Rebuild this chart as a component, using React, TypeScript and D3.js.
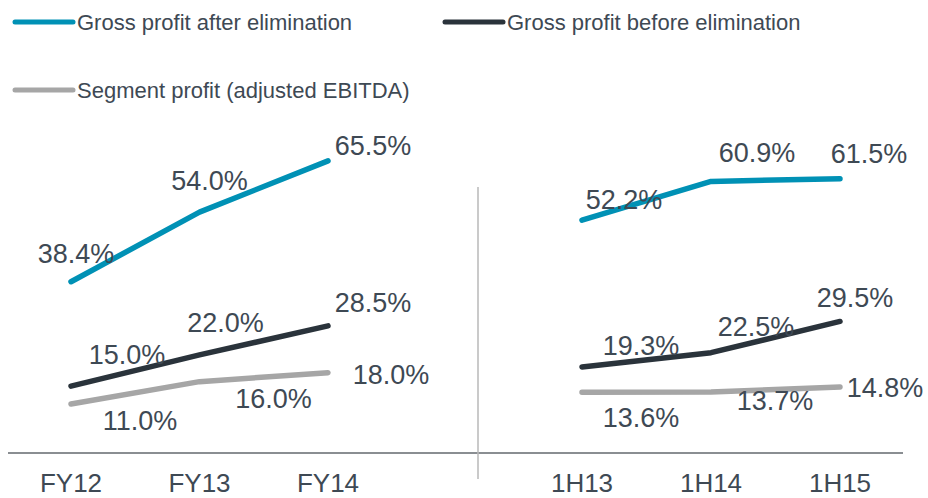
import React, { useEffect, useRef } from 'react';
import * as d3 from 'd3';

const fyPeriods = ['FY12', 'FY13', 'FY14'];
const hyPeriods = ['1H13', '1H14', '1H15'];

const seriesNames = [
  'Gross profit after elimination',
  'Gross profit before elimination',
  'Segment profit (adjusted EBITDA)',
];

// margins in %, left panel (FY) and right panel (1H)
const afterElimFY = [38.4, 54.0, 65.5];
const beforeElimFY = [15.0, 22.0, 28.5];
const segmentFY = [11.0, 16.0, 18.0];
const afterElimHY = [52.2, 60.9, 61.5];
const beforeElimHY = [19.3, 22.5, 29.5];
const segmentHY = [13.6, 13.7, 14.8];

const colors = ['#0091b5', '#2a333b', '#a6a6a6'];
const textColor = '#3e4954';

// hand placed label nudges (px) per series, per point
const labelNudgeFY = [
  [[5, -19], [10, -22], [45, -6]],
  [[56, -22], [26, -23], [45, -14]],
  [[69, 26], [74, 26], [63, 11]],
];
const labelNudgeHY = [
  [[42, -11], [46, -19], [29, -16]],
  [[59, -12], [45, -17], [15, -14]],
  [[59, 35], [64, 18], [45, 10]],
];

const App = () => {
  const ref = useRef<SVGSVGElement>(null);

  useEffect(() => {
    const width = 928;
    const height = 498;
    const font = '"Liberation Sans", Arial, sans-serif';

    const svg = d3.select(ref.current)
      .attr('width', width)
      .attr('height', height)
      .style('font-family', font);

    svg.selectAll('*').remove();

    const y = d3.scaleLinear().domain([0, 100]).range([453, 7]);

    const xFY = d3.scalePoint().domain(fyPeriods).range([71, 328]);
    const xHY = d3.scalePoint().domain(hyPeriods).range([582, 840]);

    // baseline and panel divider
    svg.append('line')
      .attr('x1', 8).attr('x2', 903)
      .attr('y1', y(0)).attr('y2', y(0))
      .attr('stroke', '#8a8e92')
      .attr('stroke-width', 2);

    svg.append('line')
      .attr('x1', 478).attr('x2', 478)
      .attr('y1', 187).attr('y2', 479)
      .attr('stroke', '#b8b8b8')
      .attr('stroke-width', 1.5);

    // category labels, right near the bottom edge
    const drawAxis = (x, periods) => {
      svg.append('g')
        .selectAll('text')
        .data(periods)
        .enter()
        .append('text')
        .attr('x', d => x(d))
        .attr('y', 492)
        .attr('text-anchor', 'middle')
        .attr('fill', textColor)
        .style('font-size', '26px')
        .text(d => d);
    };
    drawAxis(xFY, fyPeriods);
    drawAxis(xHY, hyPeriods);

    const line = (x, periods) => d3.line<number>()
      .x((d, i) => x(periods[i]))
      .y(d => y(d));

    const drawPanel = (x, periods, series, nudges) => {
      const g = svg.append('g');
      series.forEach((values, s) => {
        g.append('path')
          .datum(values)
          .attr('d', line(x, periods))
          .attr('fill', 'none')
          .attr('stroke', colors[s])
          .attr('stroke-width', 5.5)
          .attr('stroke-linecap', 'round')
          .attr('stroke-linejoin', 'round');
      });
      // labels on top of the lines
      series.forEach((values, s) => {
        g.selectAll(`.label-${s}`)
          .data(values)
          .enter()
          .append('text')
          .attr('class', `label-${s}`)
          .attr('x', (d, i) => x(periods[i]) + nudges[s][i][0])
          .attr('y', (d, i) => y(d) + nudges[s][i][1])
          .attr('text-anchor', 'middle')
          .attr('fill', textColor)
          .style('font-size', '27px')
          .text(d => `${d.toFixed(1)}%`);
      });
    };

    drawPanel(xFY, fyPeriods, [afterElimFY, beforeElimFY, segmentFY], labelNudgeFY);
    drawPanel(xHY, hyPeriods, [afterElimHY, beforeElimHY, segmentHY], labelNudgeHY);

    // legend
    const legendPos = [[15, 22], [445, 22], [15, 90]];
    const legend = svg.selectAll('.legend-item')
      .data(seriesNames)
      .enter()
      .append('g')
      .attr('class', 'legend-item')
      .attr('transform', (d, i) => `translate(${legendPos[i][0]},${legendPos[i][1]})`);

    legend.append('line')
      .attr('x1', 0).attr('x2', 58)
      .attr('y1', 0).attr('y2', 0)
      .attr('stroke', (d, i) => colors[i])
      .attr('stroke-width', 5)
      .attr('stroke-linecap', 'round');

    legend.append('text')
      .attr('x', 62)
      .attr('y', 7.5)
      .attr('fill', textColor)
      .style('font-size', '22px')
      .text(d => d);
  }, []);

  return (
    <svg ref={ref} style={{ position: 'absolute', left: 0, top: 0, display: 'block' }} />
  );
};

export default App;
